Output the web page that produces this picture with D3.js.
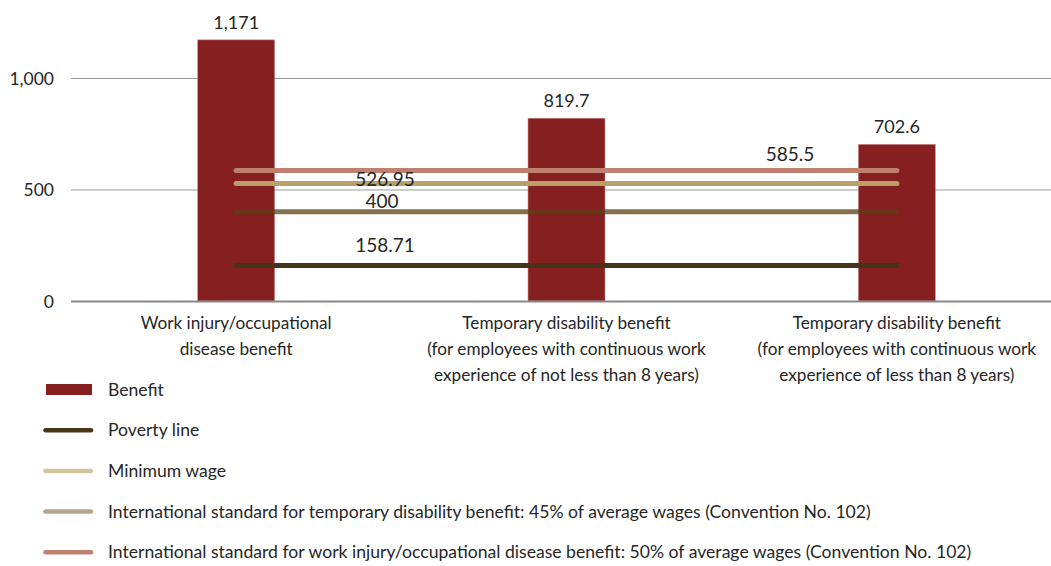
<!DOCTYPE html>
<html>
<head>
<meta charset="utf-8">
<script src="https://cdn.jsdelivr.net/npm/d3@7"></script>
<style>
  html, body { margin: 0; padding: 0; background: #fff; }
  svg { display: block; font-family: Lato, "Open Sans", sans-serif; }
</style>
</head>
<body>
<svg id="chart" width="1051" height="566"></svg>
<script>
// Benefit amounts per category
const categories = [
  ["Work injury/occupational", "disease benefit"],
  ["Temporary disability benefit", "(for employees with continuous work", "experience of not less than 8 years)"],
  ["Temporary disability benefit", "(for employees with continuous work", "experience of less than 8 years)"]
];
const benefitValues = [1171, 819.7, 702.6];

// Reference levels drawn as horizontal lines across the categories
const referenceNames = [
  "Poverty line",
  "Minimum wage",
  "International standard for temporary disability benefit: 45% of average wages (Convention No. 102)",
  "International standard for work injury/occupational disease benefit: 50% of average wages (Convention No. 102)"
];
const referenceValues = [158.71, 526.95, 400, 585.5];

const yTicks = [0, 500, 1000];

// Styling
const benefitColor = "#861f1f";
const lineColors = ["#46331a", "#b8a066", "#5c4016", "#bf8070"];
const lineOpacity = [1, 1, 0.75, 1];
const legendColors = ["#4a3518", "#d4c49c", "#b8a488", "#bf8070"];
// where each reference label sits: x position and offset from its line
const refLabelPos = [
  { x: 385, dy: -13.5 },
  { x: 385, dy: 2.5 },
  { x: 382, dy: -4 },
  { x: 790, dy: -9.5 }
];

const svg = d3.select("#chart");
const textColor = "#262626";

const x = d3.scaleBand()
  .domain(d3.range(categories.length))
  .range([71, 1062])
  .paddingInner(0.767)
  .paddingOuter(0.3835);

const y = d3.scaleLinear().domain([0, 1000]).range([301, 78]);

// gridlines
svg.append("g").selectAll("line")
  .data(yTicks.filter(t => t !== 0))
  .join("line")
  .attr("x1", 71).attr("x2", 1051)
  .attr("y1", d => y(d) + 0.5).attr("y2", d => y(d) + 0.5)
  .attr("stroke", "#9a9a9a").attr("stroke-width", 1);

// y tick labels
svg.append("g").selectAll("text")
  .data(yTicks)
  .join("text")
  .attr("x", 54)
  .attr("y", d => y(d) + 6.5)
  .attr("text-anchor", "end")
  .attr("font-size", 17.5)
  .attr("fill", textColor)
  .text(d => d3.format(",")(d));

// bars
svg.append("g").selectAll("rect")
  .data(benefitValues)
  .join("rect")
  .attr("x", (d, i) => x(i))
  .attr("width", x.bandwidth())
  .attr("y", d => y(d))
  .attr("height", d => y(0) - y(d))
  .attr("fill", benefitColor)
  .attr("stroke", "#c98f8f")
  .attr("stroke-width", 0.6);

// baseline axis
svg.append("line")
  .attr("x1", 71).attr("x2", 1051)
  .attr("y1", y(0) + 0.5).attr("y2", y(0) + 0.5)
  .attr("stroke", "#888").attr("stroke-width", 2);

// bar value labels
svg.append("g").selectAll("text")
  .data(benefitValues)
  .join("text")
  .attr("x", (d, i) => x(i) + x.bandwidth() / 2)
  .attr("y", d => y(d) - 11)
  .attr("text-anchor", "middle")
  .attr("font-size", 18)
  .attr("fill", textColor)
  .text(d => d3.format(",")(d));

// reference lines
const xStart = x(0) + x.bandwidth() / 2;
const xEnd = x(categories.length - 1) + x.bandwidth() / 2;
svg.append("g").selectAll("line")
  .data(referenceValues)
  .join("line")
  .attr("x1", xStart).attr("x2", xEnd)
  .attr("y1", d => y(d)).attr("y2", d => y(d))
  .attr("stroke", (d, i) => lineColors[i])
  .attr("stroke-opacity", (d, i) => lineOpacity[i])
  .attr("stroke-width", 5)
  .attr("stroke-linecap", "round");

// reference value labels
svg.append("g").selectAll("text")
  .data(referenceValues)
  .join("text")
  .attr("x", (d, i) => refLabelPos[i].x)
  .attr("y", (d, i) => y(d) + refLabelPos[i].dy)
  .attr("text-anchor", "middle")
  .attr("font-size", 19)
  .attr("fill", textColor)
  .text(d => String(d));

// category labels
const catG = svg.append("g").selectAll("text")
  .data(categories)
  .join("text")
  .attr("text-anchor", "middle")
  .attr("font-size", 17.2)
  .attr("fill", textColor);
catG.selectAll("tspan")
  .data((d, i) => d.map(line => ({ line, i })))
  .join("tspan")
  .attr("x", d => x(d.i) + x.bandwidth() / 2)
  .attr("y", (d, j) => 329 + j * 26)
  .text(d => d.line);

// legend
const legendRows = [{ name: "Benefit", type: "rect", color: benefitColor }]
  .concat(referenceNames.map((n, i) => ({ name: n, type: "line", color: legendColors[i] })));
const legend = svg.append("g").selectAll("g")
  .data(legendRows)
  .join("g")
  .attr("transform", (d, i) => `translate(0, ${389.5 + i * 40.7})`);
legend.filter(d => d.type === "rect").append("rect")
  .attr("x", 46).attr("y", -5.5).attr("width", 46).attr("height", 11)
  .attr("fill", d => d.color);
legend.filter(d => d.type === "line").append("line")
  .attr("x1", 45.5).attr("x2", 91).attr("y1", 0).attr("y2", 0)
  .attr("stroke", d => d.color)
  .attr("stroke-width", 4.5)
  .attr("stroke-linecap", "round");
legend.append("text")
  .attr("x", 108).attr("y", 6)
  .attr("font-size", 17.6)
  .attr("fill", textColor)
  .text(d => d.name);
</script>
</body>
</html>
